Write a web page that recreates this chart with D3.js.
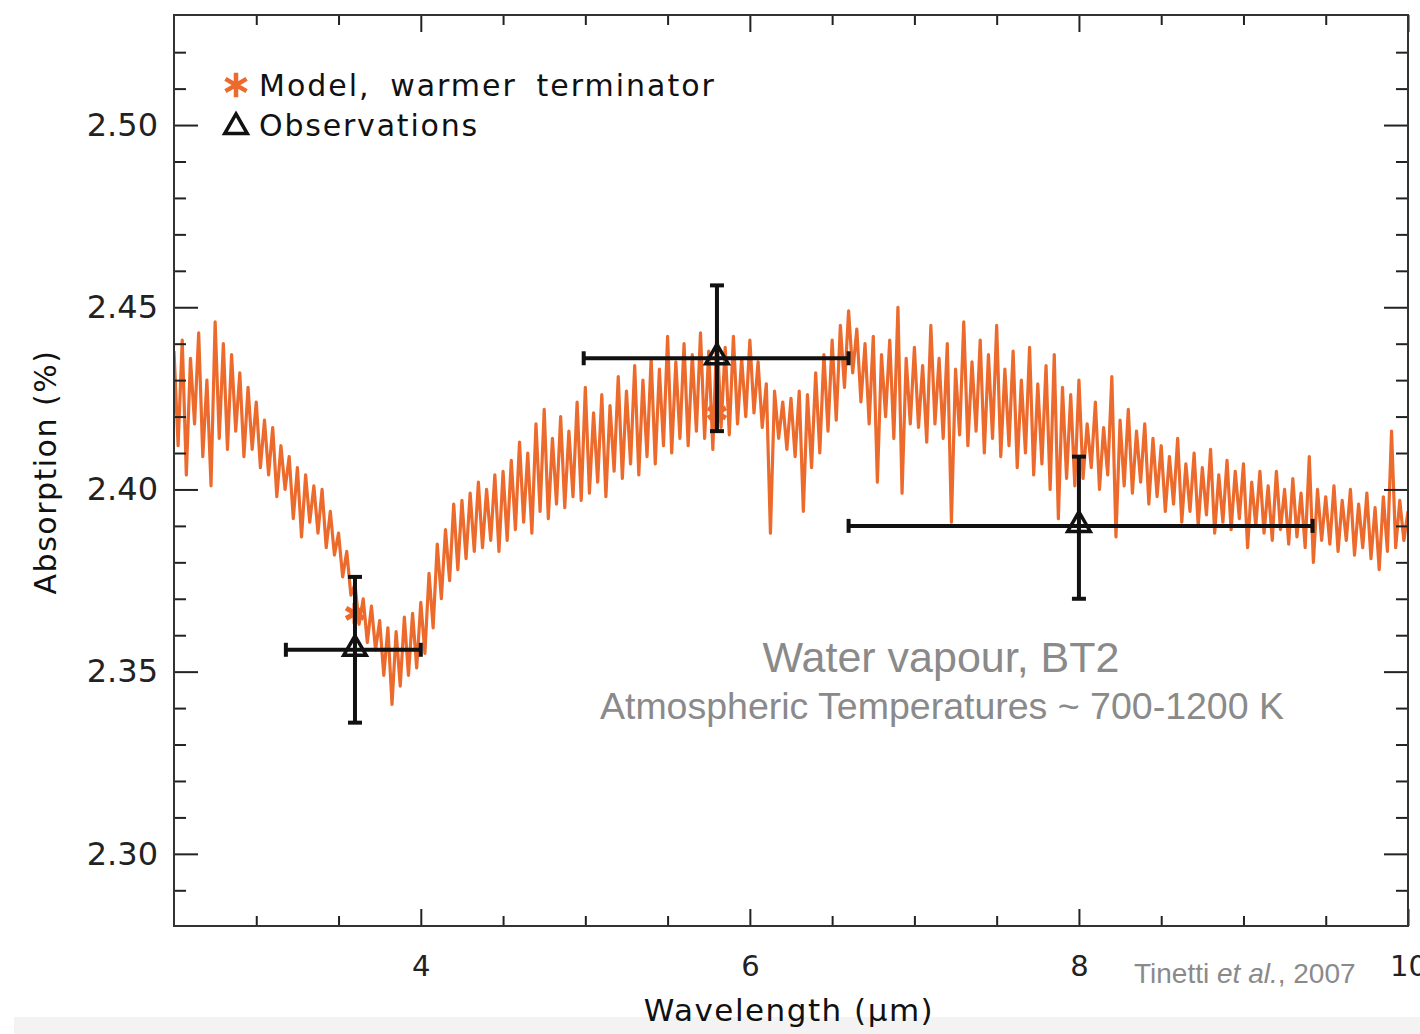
<!DOCTYPE html>
<html>
<head>
<meta charset="utf-8">
<script src="https://cdn.jsdelivr.net/npm/d3@7"></script>
<style>
  body { margin: 0; background: #fff; }
</style>
</head>
<body>
<script>
// model spectrum, sampled every 0.025 micron from 2.5 to 10.0
var modelStart = 2.5, modelStep = 0.025;
var modelAbs = [
  2.438, 2.412, 2.441, 2.404, 2.436, 2.418, 2.443, 2.409, 2.430, 2.401, 2.446, 2.414, 2.440, 2.411, 2.437, 2.416, 2.432, 2.409, 2.428, 2.411,
  2.424, 2.406, 2.419, 2.404, 2.417, 2.398, 2.412, 2.400, 2.409, 2.392, 2.406, 2.387, 2.404, 2.391, 2.401, 2.388, 2.400, 2.384, 2.394, 2.382,
  2.388, 2.376, 2.383, 2.371, 2.374, 2.363, 2.370, 2.358, 2.368, 2.356, 2.364, 2.349, 2.362, 2.341, 2.361, 2.346, 2.365, 2.349, 2.366, 2.351,
  2.369, 2.355, 2.377, 2.362, 2.385, 2.370, 2.389, 2.375, 2.396, 2.378, 2.397, 2.381, 2.399, 2.383, 2.402, 2.384, 2.400, 2.386, 2.404, 2.383,
  2.405, 2.386, 2.408, 2.389, 2.413, 2.391, 2.410, 2.388, 2.418, 2.394, 2.422, 2.392, 2.414, 2.396, 2.420, 2.395, 2.416, 2.398, 2.424, 2.397,
  2.428, 2.399, 2.421, 2.402, 2.426, 2.398, 2.423, 2.405, 2.431, 2.403, 2.427, 2.407, 2.434, 2.404, 2.430, 2.409, 2.436, 2.407, 2.433, 2.412,
  2.442, 2.410, 2.435, 2.414, 2.440, 2.412, 2.437, 2.416, 2.443, 2.414, 2.438, 2.411, 2.444, 2.417, 2.439, 2.415, 2.442, 2.418, 2.436, 2.420,
  2.441, 2.421, 2.435, 2.417, 2.429, 2.388, 2.427, 2.414, 2.424, 2.411, 2.425, 2.409, 2.427, 2.394, 2.426, 2.406, 2.432, 2.410, 2.437, 2.416,
  2.441, 2.419, 2.445, 2.428, 2.449, 2.432, 2.444, 2.424, 2.440, 2.418, 2.442, 2.402, 2.437, 2.420, 2.441, 2.414, 2.450, 2.399, 2.436, 2.418,
  2.439, 2.417, 2.434, 2.413, 2.445, 2.418, 2.436, 2.414, 2.440, 2.391, 2.433, 2.415, 2.446, 2.412, 2.435, 2.416, 2.441, 2.410, 2.437, 2.414,
  2.445, 2.409, 2.433, 2.412, 2.438, 2.406, 2.430, 2.410, 2.439, 2.404, 2.429, 2.407, 2.434, 2.400, 2.437, 2.392, 2.428, 2.403, 2.426, 2.401,
  2.430, 2.403, 2.418, 2.406, 2.424, 2.400, 2.417, 2.404, 2.431, 2.387, 2.419, 2.401, 2.422, 2.399, 2.416, 2.402, 2.418, 2.396, 2.414, 2.398,
  2.412, 2.394, 2.409, 2.396, 2.414, 2.391, 2.407, 2.394, 2.410, 2.390, 2.406, 2.393, 2.411, 2.388, 2.404, 2.391, 2.408, 2.389, 2.405, 2.392,
  2.407, 2.384, 2.402, 2.390, 2.405, 2.388, 2.401, 2.386, 2.405, 2.389, 2.400, 2.385, 2.403, 2.387, 2.399, 2.384, 2.409, 2.380, 2.400, 2.386,
  2.398, 2.385, 2.401, 2.383, 2.397, 2.386, 2.400, 2.382, 2.396, 2.384, 2.399, 2.381, 2.395, 2.378, 2.398, 2.383, 2.416, 2.384, 2.397, 2.386,
  2.394
];

// binned model values near the observed bands
var modelBinWl = [3.6, 5.8];
var modelBinAbs = [2.366, 2.421];

// observations with error bars
var obsWl = [3.6, 5.8, 8.0];
var obsAbs = [2.356, 2.436, 2.390];
var obsWlLo = [3.18, 4.99, 6.60];
var obsWlHi = [4.00, 6.60, 9.42];
var obsAbsLo = [2.336, 2.416, 2.370];
var obsAbsHi = [2.376, 2.456, 2.409];

var xMajor = [4, 6, 8, 10];
var xMinor = [3, 3.5, 4.5, 5, 5.5, 6.5, 7, 7.5, 8.5, 9, 9.5];
var yMajor = [2.30, 2.35, 2.40, 2.45, 2.50];
var yMinor = [2.29, 2.31, 2.32, 2.33, 2.34, 2.36, 2.37, 2.38, 2.39, 2.41, 2.42, 2.43, 2.44, 2.46, 2.47, 2.48, 2.49, 2.51, 2.52];

var orange = "#ec6a2c";
var hershey = "'DejaVu Sans', sans-serif";
var helv = "'Liberation Sans', Arial, sans-serif";

var outerWidth = 1420, outerHeight = 1034;
var plot = {left: 174, top: 15, right: 1408, bottom: 926};

var svg = d3.select("body").append("svg")
    .attr("width", outerWidth)
    .attr("height", outerHeight);

// faint band at the very bottom of the slide
svg.append("rect")
    .attr("x", 14).attr("y", 1017)
    .attr("width", outerWidth - 14).attr("height", 17)
    .attr("fill", "#f3f3f3");

var x = d3.scaleLinear().domain([2.5, 10]).range([plot.left, plot.right]);
var y = d3.scaleLinear().domain([2.2802, 2.5302]).range([plot.bottom, plot.top]);

svg.append("clipPath").attr("id", "clip")
  .append("rect")
    .attr("x", plot.left).attr("y", plot.top)
    .attr("width", plot.right - plot.left).attr("height", plot.bottom - plot.top);

// spectrum
var line = d3.line()
    .x(function(d, i) { return x(modelStart + i * modelStep); })
    .y(function(d) { return y(d); });

svg.append("path")
    .datum(modelAbs)
    .attr("clip-path", "url(#clip)")
    .attr("fill", "none")
    .attr("stroke", orange)
    .attr("stroke-width", 3.2)
    .attr("stroke-linejoin", "round")
    .attr("d", line);

var asterisk = d3.symbol().type(d3.symbolAsterisk).size(300);
svg.selectAll(".bin")
    .data(modelBinWl)
  .enter().append("path")
    .attr("class", "bin")
    .attr("transform", function(d, i) { return "translate(" + x(d) + "," + y(modelBinAbs[i]) + ")"; })
    .attr("d", asterisk)
    .attr("fill", "none")
    .attr("stroke", orange)
    .attr("stroke-width", 5);

// axes, ticks pointing inward on all four sides
function styleAxis(g) {
  g.select(".domain").remove();
  g.selectAll(".tick line").attr("stroke", "#222").attr("stroke-width", 2);
  g.selectAll(".tick text").attr("fill", "#222").style("font-family", hershey);
}

svg.append("g")
    .attr("transform", "translate(0," + plot.bottom + ")")
    .call(d3.axisBottom(x).tickValues(xMajor).tickSize(-17).tickPadding(29).tickFormat(d3.format("d")))
    .call(styleAxis)
    .selectAll(".tick text").style("font-size", "29px");
svg.append("g")
    .attr("transform", "translate(0," + plot.bottom + ")")
    .call(d3.axisBottom(x).tickValues(xMinor).tickSize(-10).tickFormat(""))
    .call(styleAxis);
svg.append("g")
    .attr("transform", "translate(0," + plot.top + ")")
    .call(d3.axisTop(x).tickValues(xMajor).tickSize(-17).tickFormat(""))
    .call(styleAxis);
svg.append("g")
    .attr("transform", "translate(0," + plot.top + ")")
    .call(d3.axisTop(x).tickValues(xMinor).tickSize(-10).tickFormat(""))
    .call(styleAxis);

svg.append("g")
    .attr("transform", "translate(" + plot.left + ",0)")
    .call(d3.axisLeft(y).tickValues(yMajor).tickSize(-24).tickPadding(16).tickFormat(d3.format(".2f")))
    .call(styleAxis)
    .selectAll(".tick text").style("font-size", "32px");
svg.append("g")
    .attr("transform", "translate(" + plot.left + ",0)")
    .call(d3.axisLeft(y).tickValues(yMinor).tickSize(-12).tickFormat(""))
    .call(styleAxis);
svg.append("g")
    .attr("transform", "translate(" + plot.right + ",0)")
    .call(d3.axisRight(y).tickValues(yMajor).tickSize(-24).tickFormat(""))
    .call(styleAxis);
svg.append("g")
    .attr("transform", "translate(" + plot.right + ",0)")
    .call(d3.axisRight(y).tickValues(yMinor).tickSize(-12).tickFormat(""))
    .call(styleAxis);

svg.append("rect")
    .attr("x", plot.left).attr("y", plot.top)
    .attr("width", plot.right - plot.left).attr("height", plot.bottom - plot.top)
    .attr("fill", "none")
    .attr("stroke", "#333")
    .attr("stroke-width", 2);

// observations
var obs = svg.append("g");
obsWl.forEach(function(w, i) {
  var cx = x(w), cy = y(obsAbs[i]);
  var cap = 7;
  obs.append("line")
      .attr("x1", x(obsWlLo[i])).attr("x2", x(obsWlHi[i]))
      .attr("y1", cy).attr("y2", cy);
  obs.append("line")
      .attr("x1", cx).attr("x2", cx)
      .attr("y1", y(obsAbsLo[i])).attr("y2", y(obsAbsHi[i]));
  obs.append("line")
      .attr("x1", x(obsWlLo[i])).attr("x2", x(obsWlLo[i]))
      .attr("y1", cy - cap).attr("y2", cy + cap);
  obs.append("line")
      .attr("x1", x(obsWlHi[i])).attr("x2", x(obsWlHi[i]))
      .attr("y1", cy - cap).attr("y2", cy + cap);
  obs.append("line")
      .attr("x1", cx - cap).attr("x2", cx + cap)
      .attr("y1", y(obsAbsLo[i])).attr("y2", y(obsAbsLo[i]));
  obs.append("line")
      .attr("x1", cx - cap).attr("x2", cx + cap)
      .attr("y1", y(obsAbsHi[i])).attr("y2", y(obsAbsHi[i]));
});
obs.selectAll("line").attr("stroke", "#111").attr("stroke-width", 4);

var tri = d3.symbol().type(d3.symbolTriangle).size(220);
obs.selectAll(".tri")
    .data(obsWl)
  .enter().append("path")
    .attr("class", "tri")
    .attr("transform", function(d, i) { return "translate(" + x(d) + "," + (y(obsAbs[i]) - 1) + ")"; })
    .attr("d", tri)
    .attr("fill", "none")
    .attr("stroke", "#111")
    .attr("stroke-width", 3.5);

// legend
var legend = svg.append("g").style("font-family", hershey).style("font-size", "30px").attr("fill", "#111");
legend.append("path")
    .attr("transform", "translate(236,85)")
    .attr("d", d3.symbol().type(d3.symbolAsterisk).size(420))
    .attr("fill", "none").attr("stroke", orange).attr("stroke-width", 4.5);
legend.append("text").attr("x", 259).attr("y", 96)
    .attr("letter-spacing", 2).attr("word-spacing", 8)
    .text("Model, warmer terminator");
legend.append("path")
    .attr("transform", "translate(236,127)")
    .attr("d", tri)
    .attr("fill", "none").attr("stroke", "#111").attr("stroke-width", 3.5);
legend.append("text").attr("x", 259).attr("y", 136)
    .attr("letter-spacing", 1.8)
    .text("Observations");

// axis titles
svg.append("text")
    .attr("x", 789).attr("y", 1021)
    .attr("text-anchor", "middle")
    .style("font-family", hershey).style("font-size", "31px")
    .attr("letter-spacing", 1.5)
    .attr("fill", "#111")
    .text("Wavelength (\u03bcm)");

svg.append("text")
    .attr("transform", "translate(56,472) rotate(-90)")
    .attr("text-anchor", "middle")
    .style("font-family", hershey).style("font-size", "30px")
    .attr("letter-spacing", 1.5)
    .attr("fill", "#111")
    .text("Absorption (%)");

// annotations
svg.append("text")
    .attr("x", 941).attr("y", 672)
    .attr("text-anchor", "middle")
    .style("font-family", helv).style("font-size", "43px")
    .attr("fill", "#8a8a8a")
    .text("Water vapour, BT2");

svg.append("text")
    .attr("x", 942).attr("y", 719)
    .attr("text-anchor", "middle")
    .style("font-family", helv).style("font-size", "37.5px")
    .attr("fill", "#8a8a8a")
    .text("Atmospheric Temperatures ~ 700-1200 K");

var cite = svg.append("text")
    .attr("x", 1134).attr("y", 983)
    .style("font-family", helv).style("font-size", "28px")
    .attr("fill", "#8a8a8a");
cite.append("tspan").text("Tinetti ");
cite.append("tspan").style("font-style", "italic").text("et al.");
cite.append("tspan").text(", 2007");
</script>
</body>
</html>
